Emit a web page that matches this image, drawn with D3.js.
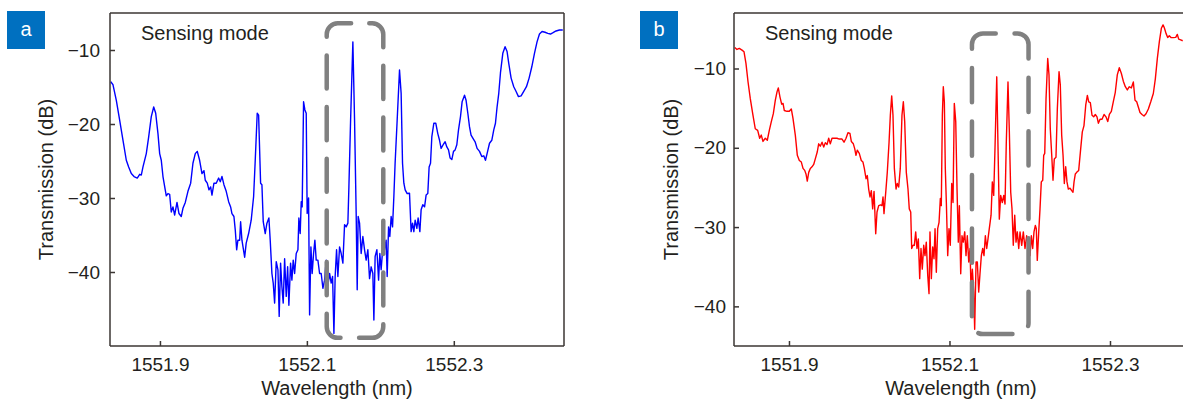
<!DOCTYPE html>
<html>
<head>
<meta charset="utf-8">
<script src="https://cdn.jsdelivr.net/npm/d3@7"></script>
<style>
  html, body { margin: 0; padding: 0; background: #fff; }
  svg { display: block; font-family: "Liberation Sans", Arial, Helvetica, sans-serif; }
</style>
</head>
<body>
<svg id="fig" width="1183" height="400"></svg>
<script>
// Transmission spectra, panel a (blue)
const waveA = [1551.8330,1551.8361,1551.8406,1551.8452,1551.8497,1551.8542,1551.8574,1551.8610,1551.8647,1551.8691,
1551.8724,1551.8746,1551.8769,1551.8814,1551.8847,1551.8882,1551.8915,1551.8942,1551.8973,1551.8996,
1551.9018,1551.9041,1551.9072,1551.9086,1551.9109,1551.9132,1551.9154,1551.9177,1551.9200,1551.9232,
1551.9259,1551.9290,1551.9313,1551.9345,1551.9381,1551.9418,1551.9449,1551.9481,1551.9508,1551.9540,
1551.9572,1551.9599,1551.9617,1551.9644,1551.9667,1551.9690,1551.9708,1551.9735,1551.9766,1551.9799,
1551.9821,1551.9844,1551.9871,1551.9902,1551.9935,1551.9962,1551.9980,1552.0007,1552.0025,1552.0044,
1552.0061,1552.0085,1552.0098,1552.0116,1552.0134,1552.0153,1552.0174,1552.0207,1552.0242,1552.0275,
1552.0297,1552.0324,1552.0343,1552.0370,1552.0388,1552.0406,1552.0433,1552.0456,1552.0483,1552.0501,
1552.0524,1552.0542,1552.0561,1552.0583,1552.0606,1552.0623,1552.0642,1552.0660,1552.0678,1552.0697,
1552.0719,1552.0738,1552.0755,1552.0778,1552.0796,1552.0814,1552.0833,1552.0855,1552.0878,1552.0891,
1552.0909,1552.0923,1552.0936,1552.0955,1552.0973,1552.0991,1552.1004,1552.1023,1552.1037,1552.1055,
1552.1072,1552.1091,1552.1109,1552.1127,1552.1150,1552.1173,1552.1195,1552.1218,1552.1241,1552.1263,
1552.1286,1552.1309,1552.1331,1552.1350,1552.1368,1552.1385,1552.1404,1552.1422,1552.1445,1552.1467,
1552.1490,1552.1513,1552.1535,1552.1558,1552.1572,1552.1595,1552.1626,1552.1649,1552.1671,1552.1685,
1552.1698,1552.1717,1552.1739,1552.1762,1552.1785,1552.1807,1552.1830,1552.1853,1552.1875,1552.1898,
1552.1912,1552.1929,1552.1953,1552.1976,1552.1993,1552.2011,1552.2034,1552.2057,1552.2079,1552.2093,
1552.2112,1552.2129,1552.2147,1552.2166,1552.2184,1552.2201,1552.2229,1552.2261,1552.2283,1552.2302,
1552.2320,1552.2338,1552.2365,1552.2397,1552.2419,1552.2438,1552.2456,1552.2474,1552.2497,1552.2514,
1552.2538,1552.2555,1552.2578,1552.2602,1552.2623,1552.2646,1552.2664,1552.2683,1552.2701,1552.2728,
1552.2755,1552.2782,1552.2806,1552.2827,1552.2855,1552.2882,1552.2905,1552.2928,1552.2950,1552.2973,
1552.2996,1552.3018,1552.3041,1552.3064,1552.3091,1552.3113,1552.3146,1552.3167,1552.3191,1552.3214,
1552.3235,1552.3259,1552.3290,1552.3317,1552.3350,1552.3381,1552.3408,1552.3431,1552.3453,1552.3486,
1552.3517,1552.3544,1552.3567,1552.3589,1552.3612,1552.3635,1552.3667,1552.3698,1552.3725,1552.3748,
1552.3780,1552.3816,1552.3848,1552.3880,1552.3916,1552.3952,1552.3989,1552.4025,1552.4061,1552.4098,
1552.4133,1552.4166,1552.4201,1552.4242,1552.4279,1552.4316,1552.4351,1552.4392,1552.4438,1552.4483];
const transA = [-14.28,-14.7,-16.8,-19.5,-22.2,-24.9,-25.8,-26.7,-27.1,-27.3,
-26.8,-26.9,-25.8,-24.0,-21.7,-19.0,-17.7,-18.55,-21.3,-24.0,
-24.9,-27.1,-28.9,-29.7,-29.4,-29.5,-31.9,-31.2,-32.3,-30.6,
-32.1,-32.5,-31.4,-30.6,-29.1,-28.0,-25.3,-24.0,-23.7,-24.9,
-26.7,-26.3,-27.6,-28.0,-28.9,-28.5,-29.6,-28.0,-28.0,-27.3,
-27.8,-27.1,-28.2,-29.1,-30.5,-31.2,-32.1,-32.5,-34.3,-37.0,
-35.7,-35.7,-33.2,-35.7,-36.8,-38.0,-36.1,-34.8,-33.0,-29.8,
-24.9,-18.55,-18.8,-28.0,-28.2,-33.2,-34.8,-33.4,-32.7,-35.7,
-40.2,-41.5,-44.2,-38.6,-39.7,-46.0,-38.8,-42.0,-44.2,-38.2,
-43.3,-39.3,-44.5,-38.8,-41.1,-38.4,-40.2,-37.5,-37.0,-32.7,
-34.8,-30.5,-31.2,-17.0,-18.1,-18.55,-32.1,-30.0,-45.8,-36.6,
-40.2,-37.5,-35.7,-38.4,-38.4,-40.2,-40.2,-42.2,-41.1,-38.4,
-41.8,-40.2,-41.5,-40.6,-48.3,-40.6,-37.0,-40.6,-36.6,-37.5,
-38.8,-33.6,-33.9,-33.4,-28.5,-19.5,-8.9,-19.5,-32.1,-42.4,
-32.5,-33.4,-37.5,-35.2,-37.0,-38.4,-37.0,-40.9,-39.3,-40.2,
-46.5,-37.9,-37.0,-41.1,-37.5,-39.7,-36.6,-37.0,-35.7,-40.6,
-33.9,-35.2,-32.5,-33.9,-29.8,-25.3,-19.5,-12.7,-15.85,-25.3,
-28.0,-28.9,-29.4,-29.35,-34.55,-33.4,-34.55,-33.0,-34.1,-32.7,
-34.55,-31.6,-30.9,-31.2,-29.6,-29.4,-25.8,-25.3,-21.7,-19.9,
-19.9,-21.3,-22.2,-23.3,-22.8,-22.4,-23.1,-23.5,-24.6,-24.8,
-23.7,-23.5,-22.8,-20.8,-19.0,-17.0,-16.1,-16.8,-18.55,-20.4,
-21.5,-21.9,-22.4,-23.3,-23.7,-24.4,-24.3,-24.9,-24.0,-22.6,
-22.2,-20.8,-19.9,-17.7,-15.85,-13.1,-10.45,-9.55,-10.2,-11.8,
-13.8,-14.96,-15.6,-16.3,-16.2,-15.6,-14.96,-13.8,-12.3,-10.45,
-8.9,-7.84,-7.5,-7.6,-7.75,-7.84,-7.66,-7.43,-7.3,-7.3];

// Transmission spectra, panel b (red)
const waveB = [1551.8324,1551.8352,1551.8381,1551.8415,1551.8440,1551.8464,1551.8490,1551.8518,1551.8548,1551.8580,
1551.8610,1551.8635,1551.8655,1551.8676,1551.8705,1551.8730,1551.8755,1551.8780,1551.8805,1551.8830,
1551.8851,1551.8867,1551.8888,1551.8909,1551.8926,1551.8942,1551.8975,1551.9004,1551.9029,1551.9050,
1551.9079,1551.9104,1551.9129,1551.9154,1551.9175,1551.9196,1551.9212,1551.9228,1551.9246,1551.9266,
1551.9287,1551.9308,1551.9328,1551.9353,1551.9370,1551.9390,1551.9412,1551.9433,1551.9453,1551.9474,
1551.9495,1551.9515,1551.9536,1551.9570,1551.9598,1551.9627,1551.9661,1551.9686,1551.9711,1551.9735,
1551.9760,1551.9777,1551.9802,1551.9819,1551.9835,1551.9851,1551.9876,1551.9901,1551.9922,1551.9939,
1551.9960,1551.9976,1551.9993,1552.0010,1552.0026,1552.0043,1552.0060,1552.0081,1552.0097,1552.0118,
1552.0143,1552.0159,1552.0172,1552.0184,1552.0209,1552.0225,1552.0247,1552.0263,1552.0280,1552.0296,
1552.0313,1552.0334,1552.0350,1552.0367,1552.0387,1552.0408,1552.0425,1552.0442,1552.0462,1552.0483,
1552.0499,1552.0517,1552.0529,1552.0546,1552.0562,1552.0579,1552.0595,1552.0612,1552.0629,1552.0645,
1552.0661,1552.0679,1552.0695,1552.0711,1552.0729,1552.0745,1552.0757,1552.0774,1552.0791,1552.0807,
1552.0820,1552.0836,1552.0853,1552.0870,1552.0886,1552.0898,1552.0911,1552.0923,1552.0936,1552.0948,
1552.0961,1552.0978,1552.0994,1552.1010,1552.1028,1552.1044,1552.1060,1552.1078,1552.1094,1552.1110,
1552.1123,1552.1140,1552.1156,1552.1172,1552.1190,1552.1206,1552.1222,1552.1240,1552.1256,1552.1268,
1552.1285,1552.1302,1552.1314,1552.1331,1552.1347,1552.1364,1552.1380,1552.1397,1552.1414,1552.1430,
1552.1447,1552.1464,1552.1480,1552.1496,1552.1518,1552.1534,1552.1551,1552.1567,1552.1589,1552.1605,
1552.1621,1552.1638,1552.1658,1552.1676,1552.1692,1552.1708,1552.1729,1552.1746,1552.1763,1552.1779,
1552.1795,1552.1813,1552.1829,1552.1845,1552.1863,1552.1879,1552.1900,1552.1920,1552.1941,1552.1962,
1552.1982,1552.2004,1552.2020,1552.2037,1552.2053,1552.2070,1552.2082,1552.2094,1552.2112,1552.2128,
1552.2144,1552.2162,1552.2174,1552.2187,1552.2203,1552.2224,1552.2240,1552.2256,1552.2274,1552.2290,
1552.2306,1552.2327,1552.2344,1552.2365,1552.2381,1552.2398,1552.2415,1552.2431,1552.2448,1552.2464,
1552.2481,1552.2502,1552.2523,1552.2539,1552.2552,1552.2568,1552.2585,1552.2610,1552.2635,1552.2655,
1552.2676,1552.2698,1552.2718,1552.2735,1552.2755,1552.2776,1552.2797,1552.2817,1552.2838,1552.2855,
1552.2876,1552.2901,1552.2926,1552.2950,1552.2972,1552.2992,1552.3017,1552.3041,1552.3066,1552.3091,
1552.3116,1552.3141,1552.3166,1552.3191,1552.3216,1552.3241,1552.3266,1552.3291,1552.3312,1552.3333,
1552.3353,1552.3374,1552.3399,1552.3424,1552.3449,1552.3478,1552.3508,1552.3540,1552.3565,1552.3590,
1552.3615,1552.3640,1552.3661,1552.3677,1552.3698,1552.3719,1552.3739,1552.3760,1552.3789,1552.3819,
1552.3839,1552.3856,1552.3881,1552.3906];
const transB = [-7.34,-7.6,-7.47,-7.68,-7.89,-9.36,-11.7,-13.8,-15.7,-17.6,
-17.8,-18.8,-18.4,-19.2,-18.8,-19.05,-17.8,-16.7,-15.7,-14.0,
-12.95,-12.45,-13.6,-14.5,-14.4,-15.3,-15.4,-15.4,-15.1,-16.3,
-18.4,-20.95,-21.6,-21.8,-22.6,-22.85,-23.3,-24.2,-23.1,-22.6,
-22.4,-22.1,-21.4,-20.5,-19.5,-19.8,-19.3,-19.9,-19.35,-19.6,
-18.8,-19.5,-18.8,-18.8,-18.8,-18.9,-18.9,-19.3,-18.8,-18.1,
-18.2,-19.2,-19.5,-20.1,-20.95,-20.3,-20.7,-21.6,-21.8,-22.6,
-23.9,-23.5,-25.2,-26.2,-25.4,-27.7,-25.5,-30.85,-28.1,-27.3,
-27.2,-27.3,-26.2,-28.3,-25.2,-23.1,-19.3,-15.9,-13.45,-15.9,
-22.6,-25.2,-24.5,-24.96,-22.6,-15.9,-14.2,-16.7,-23.1,-25.2,
-27.7,-28.1,-32.7,-32.3,-32.3,-30.6,-32.7,-31.5,-36.5,-32.7,
-35.3,-32.3,-33.6,-31.9,-36.1,-38.4,-30.6,-36.5,-32.5,-34.0,
-30.2,-35.7,-30.2,-29.4,-26.4,-27.3,-15.9,-12.3,-14.2,-22.6,
-26.9,-33.6,-30.2,-32.3,-24.5,-26.9,-14.4,-16.7,-25.2,-31.9,
-27.3,-35.9,-31.1,-31.9,-30.6,-33.6,-31.1,-34.4,-32.7,-37.8,
-35.3,-38.2,-42.9,-34.4,-34.4,-38.2,-35.9,-33.6,-32.7,-33.6,
-31.1,-32.7,-31.5,-30.2,-28.5,-24.3,-26.0,-20.1,-11.05,-20.1,
-29.0,-26.0,-26.9,-26.0,-27.1,-19.3,-11.7,-18.0,-25.6,-27.7,
-32.3,-28.5,-31.9,-30.6,-32.7,-30.6,-32.3,-30.6,-32.7,-31.1,
-32.3,-33.6,-31.1,-32.7,-30.6,-29.8,-30.2,-34.2,-30.6,-27.7,
-24.3,-24.1,-20.95,-20.7,-13.8,-8.73,-10.8,-17.6,-20.95,-24.1,
-21.4,-21.2,-15.05,-10.4,-12.1,-18.4,-20.95,-24.5,-22.4,-24.3,
-25.2,-25.1,-25.4,-25.6,-24.3,-23.3,-23.1,-22.85,-20.1,-18.0,
-17.2,-14.6,-13.4,-14.2,-14.3,-15.9,-16.1,-15.8,-16.1,-16.9,
-16.4,-16.4,-15.8,-16.1,-16.7,-15.8,-15.4,-14.2,-13.0,-10.8,
-9.9,-10.6,-11.6,-12.3,-12.7,-12.3,-12.45,-11.7,-14.0,-14.2,
-14.85,-15.55,-15.8,-16.0,-15.7,-15.1,-14.2,-13.15,-11.3,-8.73,
-6.6,-4.93,-4.5,-4.86,-5.57,-6.1,-5.87,-6.1,-6.1,-6.07,
-5.7,-6.3,-6.4,-6.5];

// Axis ticks and labels
const xTicks = [1551.9, 1552.1, 1552.3];
const yTicks = [-40, -30, -20, -10];
const panelLetters = ["a", "b"];
const modeLabel = "Sensing mode";
const xTitle = "Wavelength (nm)";
const yTitle = "Transmission (dB)";

// Highlighted wavelength windows (wavelength range, dB range)
const windowA = { x: [1552.127, 1552.204], y: [-48.9, -6.4] };
const windowB = { x: [1552.128, 1552.1985], y: [-43.5, -5.57] };

const svg = d3.select("#fig");
const axisColor = "#3b3633";
const textColor = "#231f20";
const tickFont = 19;
const labelFont = 20;

const panels = [
  { letter: panelLetters[0], wave: waveA, trans: transA, color: "#0000ff",
    left: 110, width: 454, xDomain: [1551.832, 1552.45], yDomain: [-50, -5],
    win: windowA, badgeX: 7, ytGap: 10, yTitleX: 53, rightBorder: true },
  { letter: panelLetters[1], wave: waveB, trans: transB, color: "#ff0000",
    left: 734, width: 454, xDomain: [1551.8315, 1552.3972], yDomain: [-45, -3],
    win: windowB, badgeX: 640, ytGap: 8, yTitleX: 678, rightBorder: true }
];

const plotTop = 13, plotHeight = 333;

panels.forEach((p, i) => {
  const x = d3.scaleLinear().domain(p.xDomain).range([p.left, p.left + p.width]);
  const y = d3.scaleLinear().domain(p.yDomain).range([plotTop + plotHeight, plotTop]);
  const g = svg.append("g");

  const clipId = "clip" + i;
  svg.append("clipPath").attr("id", clipId)
    .append("rect").attr("x", p.left).attr("y", plotTop).attr("width", p.width).attr("height", plotHeight);

  // spectrum trace
  const pts = p.wave.map((w, k) => [w, p.trans[k]]);
  g.append("path")
    .datum(pts)
    .attr("clip-path", `url(#${clipId})`)
    .attr("fill", "none")
    .attr("stroke", p.color)
    .attr("stroke-width", 1.4)
    .attr("stroke-linejoin", "round")
    .attr("d", d3.line().x(d => x(d[0])).y(d => y(d[1])));

  // dashed rounded window, traced clockwise from the top edge
  const wx0 = x(p.win.x[0]), wx1 = x(p.win.x[1]);
  const wy0 = y(p.win.y[1]), wy1 = y(p.win.y[0]);
  const r = 11;
  const path = d3.path();
  path.moveTo(wx1 - r - 3, wy0);
  path.lineTo(wx1 - r, wy0);
  path.arcTo(wx1, wy0, wx1, wy0 + r, r);
  path.lineTo(wx1, wy1 - r);
  path.arcTo(wx1, wy1, wx1 - r, wy1, r);
  path.lineTo(wx0 + r, wy1);
  path.arcTo(wx0, wy1, wx0, wy1 - r, r);
  path.lineTo(wx0, wy0 + r);
  path.arcTo(wx0, wy0, wx0 + r, wy0, r);
  path.closePath();
  const box = g.append("path")
    .attr("d", path.toString())
    .attr("fill", "none")
    .attr("stroke", "#808080")
    .attr("stroke-width", 4.5)
    .attr("stroke-linecap", "round");
  const len = box.node().getTotalLength();
  const n = Math.round(len / 53);
  const period = len / n;
  box.attr("stroke-dasharray", `${(period * 0.64).toFixed(2)},${(period * 0.36).toFixed(2)}`);

  // frame
  const frame = g.append("g").attr("stroke", axisColor).attr("stroke-width", 1.5).attr("fill", "none");
  frame.append("line").attr("x1", p.left).attr("x2", p.left).attr("y1", plotTop).attr("y2", plotTop + plotHeight);
  frame.append("line").attr("x1", p.left).attr("x2", p.left + p.width).attr("y1", plotTop + plotHeight).attr("y2", plotTop + plotHeight);
  frame.append("line").attr("x1", p.left).attr("x2", p.left + p.width).attr("y1", plotTop).attr("y2", plotTop);
  if (p.rightBorder) {
    frame.append("line").attr("x1", p.left + p.width).attr("x2", p.left + p.width).attr("y1", plotTop).attr("y2", plotTop + plotHeight);
  }

  // x axis (inward ticks)
  const xAxis = d3.axisBottom(x).tickValues(xTicks).tickSize(-5).tickPadding(12)
    .tickFormat(d3.format(".1f"));
  const xg = g.append("g").attr("transform", `translate(0,${plotTop + plotHeight})`).call(xAxis);
  xg.select(".domain").remove();
  xg.selectAll(".tick line").attr("stroke", axisColor).attr("stroke-width", 1.5);
  xg.selectAll(".tick text").attr("fill", textColor).attr("font-size", tickFont)
    .attr("font-family", "Liberation Sans, Arial, sans-serif");

  // y axis (inward ticks)
  const yAxis = d3.axisLeft(y).tickValues(yTicks).tickSize(-5).tickPadding(p.ytGap)
    .tickFormat(d => d3.format("d")(d).replace("-", "\u2212"));
  const yg = g.append("g").attr("transform", `translate(${p.left},0)`).call(yAxis);
  yg.select(".domain").remove();
  yg.selectAll(".tick line").attr("stroke", axisColor).attr("stroke-width", 1.5);
  yg.selectAll(".tick text").attr("fill", textColor).attr("font-size", tickFont)
    .attr("font-family", "Liberation Sans, Arial, sans-serif");

  // axis titles
  g.append("text")
    .attr("x", p.left + p.width / 2).attr("y", 395)
    .attr("text-anchor", "middle").attr("fill", textColor).attr("font-size", labelFont)
    .text(xTitle);
  g.append("text")
    .attr("transform", `translate(${p.yTitleX},${plotTop + plotHeight / 2}) rotate(-90)`)
    .attr("text-anchor", "middle").attr("fill", textColor).attr("font-size", labelFont)
    .text(yTitle);

  // mode label
  g.append("text")
    .attr("x", p.left + 31).attr("y", 40)
    .attr("fill", textColor).attr("font-size", labelFont)
    .text(modeLabel);

  // panel badge
  g.append("rect").attr("x", p.badgeX).attr("y", 11).attr("width", 38).attr("height", 38)
    .attr("fill", "#0070c0");
  g.append("text")
    .attr("x", p.badgeX + 19).attr("y", 36)
    .attr("text-anchor", "middle").attr("fill", "#ffffff").attr("font-size", 20)
    .text(p.letter);
});
</script>
</body>
</html>
